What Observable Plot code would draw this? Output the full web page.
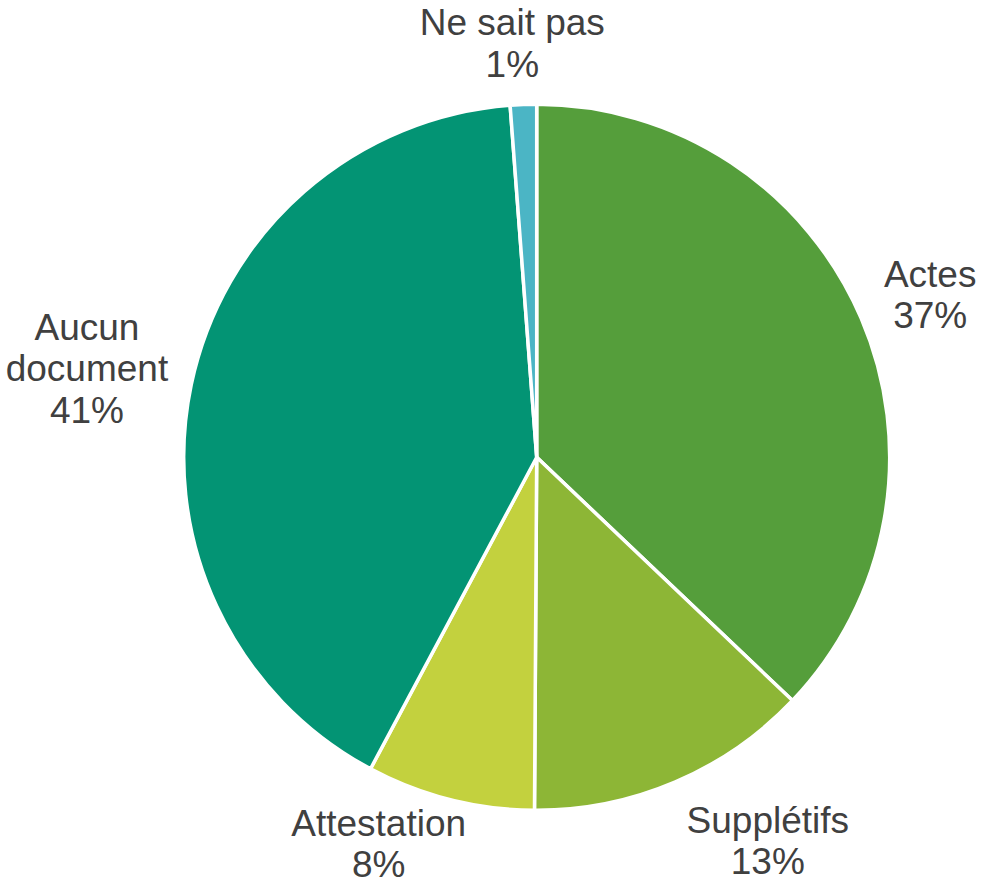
<!DOCTYPE html>
<html>
<head>
<meta charset="utf-8">
<script src="https://cdn.jsdelivr.net/npm/d3@7"></script>
<script src="https://cdn.jsdelivr.net/npm/@observablehq/plot@0.6"></script>
<style>
  html, body { margin: 0; padding: 0; background: #ffffff; }
  #chart { width: 984px; height: 890px; }
</style>
</head>
<body>
<div id="chart"></div>
<script>
// ---- Data ----
const categories = ["Actes", "Supplétifs", "Attestation", "Aucun document", "Ne sait pas"];
const labelLines = [["Actes"], ["Supplétifs"], ["Attestation"], ["Aucun", "document"], ["Ne sait pas"]];
const shares = [37.1, 13.0, 7.7, 41.0, 1.2];
const colors = ["#559E3B", "#8DB636", "#C3D13E", "#039474", "#4BB5C5"];

// ---- Layout ----
const W = 984, H = 890;
const cx = 536.7, cy = 457.3, r = 353;
const fontSize = 37, lineHeight = 1.12;
const gap = 21, padX = 3;
const textColor = "#404040";
const fontFamily = "'Liberation Sans', Arial, Helvetica, sans-serif";

const data = categories.map((c, i) => ({cat: c, value: shares[i], color: colors[i],
  label: [...labelLines[i], Math.round(shares[i]) + "%"].join("\n")}));

const arcs = d3.pie().sort(null).value(d => d.value).startAngle(0).endAngle(2 * Math.PI)(data);

// measure text
const ctx = document.createElement("canvas").getContext("2d");
ctx.font = `${fontSize}px ${fontFamily}`;

const R = r + gap;
const labels = arcs.map(a => {
  const lines = a.data.label.split("\n");
  const w = d3.max(lines, l => ctx.measureText(l).width) + 2 * padX;
  const h = lines.length * fontSize * lineHeight;
  const th = (a.startAngle + a.endAngle) / 2;
  const s = Math.sin(th), c = Math.cos(th);
  // outside-end label: the text block sits just outside the rim
  const dx = s * R + (w / 2) * Math.max(-1, Math.min(1, 3 * s));
  let dy = -c * (R + h / 2); // screen, down positive
  // keep the text block inside the frame
  const maxDy = H - 6 - h / 2 - cy, minDy = -6 + h / 2 - cy;
  dy = Math.max(minDy, Math.min(maxDy, dy));
  return {text: a.data.label, x: dx / r, y: -dy / r};
});

function pieMark(index, scales) {
  const x0 = scales.x(0), y0 = scales.y(0), rr = scales.x(1) - scales.x(0);
  const g = d3.create("svg:g").attr("transform", `translate(${x0},${y0})`);
  const arc = d3.arc().innerRadius(0).outerRadius(rr);
  g.selectAll("path").data(arcs).join("path")
    .attr("d", arc)
    .attr("fill", d => d.data.color)
    .attr("stroke", "#ffffff")
    .attr("stroke-width", 3.5)
    .attr("stroke-linejoin", "round");
  return g.node();
}

const chart = Plot.plot({
  width: W,
  height: H,
  margin: 0,
  style: {background: "#ffffff", fontFamily},
  x: {domain: [-cx / r, (W - cx) / r], axis: null},
  y: {domain: [(cy - H) / r, cy / r], axis: null},
  marks: [
    pieMark,
    Plot.text(labels, {
      x: "x", y: "y", text: "text",
      fontSize, lineHeight, fill: textColor,
      textAnchor: "middle", lineAnchor: "middle",
      fontFamily
    })
  ]
});
document.getElementById("chart").appendChild(chart);
</script>
</body>
</html>
